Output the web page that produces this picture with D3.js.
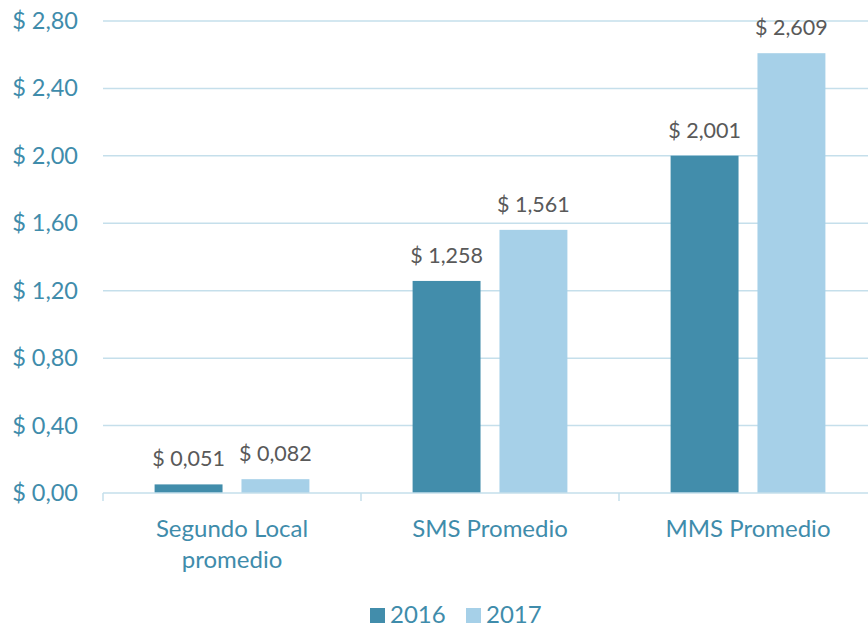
<!DOCTYPE html>
<html>
<head>
<meta charset="utf-8">
<script src="https://cdn.jsdelivr.net/npm/d3@7"></script>
<style>
  body { margin: 0; background: #fff; }
  svg text { font-family: Lato, "Open Sans", sans-serif; }
</style>
</head>
<body>
<div id="chart"></div>
<script>
// ── Data ──
const categories = ["Segundo Local promedio", "SMS Promedio", "MMS Promedio"];
const categoryLines = [["Segundo Local", "promedio"], ["SMS Promedio"], ["MMS Promedio"]];
const series = ["2016", "2017"];
const values2016 = [0.051, 1.258, 2.001];
const values2017 = [0.082, 1.561, 2.609];
const valueLabels2016 = ["$ 0,051", "$ 1,258", "$ 2,001"];
const valueLabels2017 = ["$ 0,082", "$ 1,561", "$ 2,609"];
const yTicks = [0, 0.4, 0.8, 1.2, 1.6, 2.0, 2.4, 2.8];

const COLORS = { "2016": "#428dab", "2017": "#a6d0e8" };
const GRID = "#c5dfeb";
const AXIS_TEXT = "#3f8cab";
const LABEL_TEXT = "#595959";

const W = 868, H = 628;
const plot = { left: 103, right: 877, top: 21, bottom: 493 };

const rows = categories.map((c, i) => ({
  cat: c,
  lines: categoryLines[i],
  bars: [
    { key: "2016", v: values2016[i], label: valueLabels2016[i] },
    { key: "2017", v: values2017[i], label: valueLabels2017[i] }
  ]
}));

const svg = d3.select("#chart").append("svg")
  .attr("width", W).attr("height", H);

// ── Scales ──
const x0 = d3.scaleBand().domain(categories).range([plot.left, plot.right]).padding(0);
const x1 = d3.scaleBand().domain(series)
  .range([x0.bandwidth() * 0.2, x0.bandwidth() * 0.8])
  .paddingInner(0.218).paddingOuter(0);
const y = d3.scaleLinear().domain([0, 2.8]).range([plot.bottom, plot.top]);

// ── Gridlines ──
svg.append("g").selectAll("line").data(yTicks.slice(1)).join("line")
  .attr("x1", plot.left).attr("x2", W)
  .attr("y1", d => y(d)).attr("y2", d => y(d))
  .attr("stroke", GRID).attr("stroke-width", 1.5);

// ── Y axis labels ──
const yAxis = svg.append("g").attr("transform", `translate(${plot.left},0)`)
  .call(d3.axisLeft(y).tickValues(yTicks).tickSize(0).tickPadding(25)
    .tickFormat(d => "$ " + d.toFixed(2).replace(".", ",")));
yAxis.select(".domain").remove();
yAxis.selectAll("text").attr("fill", AXIS_TEXT).attr("font-size", "23.5px");

// ── Bars ──
const groups = svg.append("g").selectAll("g").data(rows).join("g")
  .attr("transform", d => `translate(${x0(d.cat)},0)`);

groups.selectAll("rect").data(d => d.bars).join("rect")
  .attr("x", d => x1(d.key))
  .attr("y", d => y(d.v))
  .attr("width", x1.bandwidth())
  .attr("height", d => y(0) - y(d.v))
  .attr("fill", d => COLORS[d.key]);

groups.selectAll("text.val").data(d => d.bars).join("text")
  .attr("class", "val")
  .attr("x", d => x1(d.key) + x1.bandwidth() / 2)
  .attr("y", d => y(d.v) - 18)
  .attr("text-anchor", "middle")
  .attr("fill", LABEL_TEXT).attr("font-size", "21.5px")
  .text(d => d.label);

// ── X axis ──
const xAxis = svg.append("g").attr("transform", `translate(0,${plot.bottom})`);
xAxis.append("line")
  .attr("x1", plot.left).attr("x2", W)
  .attr("stroke", GRID).attr("stroke-width", 1.5);
xAxis.selectAll("line.tick").data(categories).join("line")
  .attr("class", "tick")
  .attr("x1", d => x0(d)).attr("x2", d => x0(d))
  .attr("y1", 0).attr("y2", 8)
  .attr("stroke", GRID).attr("stroke-width", 1.5);

const catText = xAxis.selectAll("text").data(rows).join("text")
  .attr("x", d => x0(d.cat) + x0.bandwidth() / 2)
  .attr("y", 44)
  .attr("text-anchor", "middle")
  .attr("fill", AXIS_TEXT).attr("font-size", "24px");
catText.selectAll("tspan").data(d => d.lines).join("tspan")
  .attr("x", function () { return d3.select(this.parentNode).attr("x"); })
  .attr("dy", (d, i) => i === 0 ? 0 : 31)
  .text(d => d);

// ── Legend ──
const legend = svg.append("g").attr("transform", "translate(370,623)");
const legendItems = legend.selectAll("g").data(series).join("g")
  .attr("transform", (d, i) => `translate(${i * 96},0)`);
legendItems.append("rect")
  .attr("x", 0).attr("y", -15).attr("width", 15).attr("height", 15)
  .attr("fill", d => COLORS[d]);
legendItems.append("text")
  .attr("x", 20).attr("y", 0)
  .attr("fill", AXIS_TEXT).attr("font-size", "24px")
  .text(d => d);
</script>
</body>
</html>
